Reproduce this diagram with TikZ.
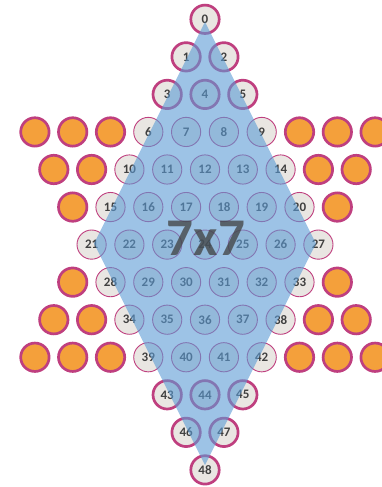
\documentclass[tikz,border=0pt]{standalone}
\usepackage{fontspec}
\setmainfont{Carlito}
\definecolor{mag}{HTML}{BF3F7F}
\definecolor{lgray}{HTML}{E9E6E2}
\definecolor{pegorange}{HTML}{F4A03B}
\definecolor{dblue}{HTML}{5B9BD5}
\definecolor{numgray}{HTML}{404040}
\tikzset{
  outerpeg/.style={circle, draw=mag, line width=2.7pt, fill=lgray, minimum size=28.4pt, inner sep=0pt,
    text=numgray, font=\bfseries\fontsize{13}{13}\selectfont},
  innerpeg/.style={circle, draw=mag, line width=0.9pt, fill=lgray, minimum size=29.2pt, inner sep=0pt,
    text=numgray, font=\bfseries\fontsize{13}{13}\selectfont},
  orangepeg/.style={circle, draw=mag, line width=2.7pt, fill=pegorange, minimum size=28.4pt, inner sep=0pt},
  board/.style={fill=dblue, opacity=0.6},
  bigtitle/.style={text=numgray, text opacity=0.75, font=\bfseries\fontsize{53}{53}\selectfont, inner sep=0pt}
}
\begin{document}
\begin{tikzpicture}[x=1pt,y=-1pt]
\useasboundingbox (0,0) rectangle (381,487);
% outer (thick) numbered pegs
\foreach \n/\k/\r in {0/0/0, 1/-1/1, 2/1/1, 3/-2/2, 4/0/2, 5/2/2, 43/-2/10, 44/0/10, 45/2/10, 46/-1/11, 47/1/11, 48/0/12}
  \node[outerpeg] (p\n) at ({205+18.9*\k},{19.3+37.55*\r}) {\n};
% inner (thin) numbered pegs
\foreach \r/\first/\cnt/\ks in {3/6/4/-3, 4/10/5/-4, 5/15/6/-5, 6/21/7/-6, 7/28/6/-5, 8/34/5/-4, 9/39/4/-3} {
  \pgfmathtruncatemacro{\last}{\cnt-1}
  \foreach \i in {0,...,\last} {
    \pgfmathtruncatemacro{\n}{\first+\i}
    \pgfmathtruncatemacro{\k}{\ks+2*\i}
    \node[innerpeg] (p\n) at ({205+18.9*\k},{19.3+37.55*\r}) {\n};
  }
}
% orange pegs
\foreach \r/\k [count=\c] in {3/-9,3/-7,3/-5,3/5,3/7,3/9, 4/-8,4/-6,4/6,4/8, 5/-7,5/7, 7/-7,7/7, 8/-8,8/-6,8/6,8/8, 9/-9,9/-7,9/-5,9/5,9/7,9/9}
  \node[orangepeg] (o\c) at ({205+18.9*\k},{19.3+37.55*\r}) {};
% blue diamond board
\fill[board] (205,22) -- (316,243.5) -- (205,465) -- (94,243.5) -- cycle;
% title
\node[bigtitle] (title) at (206,238) {7x7};
\end{tikzpicture}
\end{document}
